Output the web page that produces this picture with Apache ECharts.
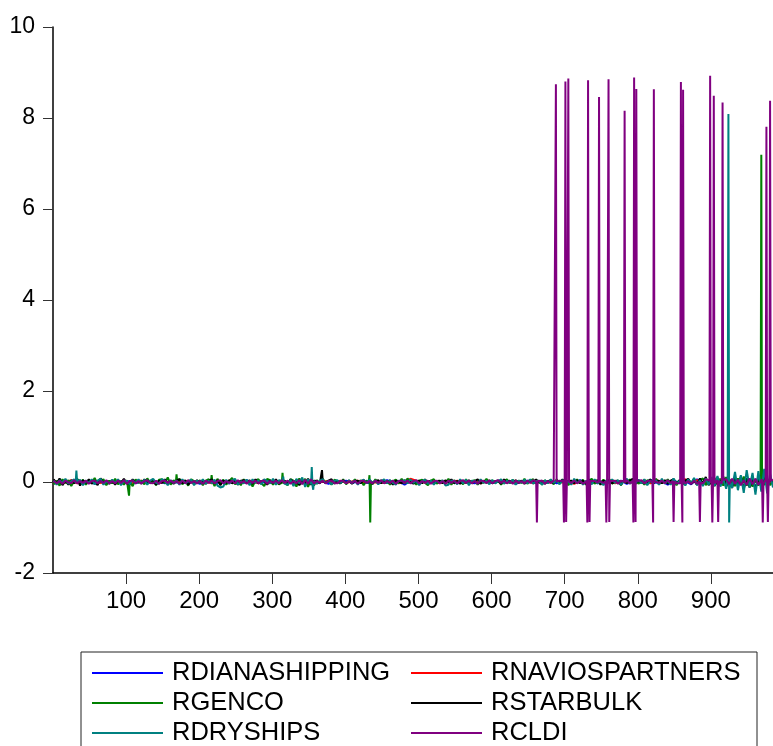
<!DOCTYPE html>
<html>
<head>
<meta charset="utf-8">
<title>Daily returns</title>
<script src="https://cdn.jsdelivr.net/npm/echarts@6/dist/echarts.min.js"></script>
<style>
  html, body { margin: 0; padding: 0; background: #fff; }
  #chart { width: 773px; height: 746px; }
</style>
</head>
<body>
<div id="chart"></div>
<script>
// Observation axis and value axis ticks
const xTicks = [100, 200, 300, 400, 500, 600, 700, 800, 900];
const yTicks = [-2, 0, 2, 4, 6, 8, 10];
const lastObs = 985;

const seriesNames = ['RDIANASHIPPING', 'RNAVIOSPARTNERS', 'RGENCO', 'RSTARBULK', 'RDRYSHIPS', 'RCLDI'];

// Everyday fluctuations, in hundredths, read every 8th observation (obs 1, 9, 17, ...)
const rdianashippingBase = [2,-3,1,-2,3,-1,2,-4,1,2, -2,3,-1,2,-3,1,4,-2,1,-3, 2,-1,3,-2,1,-4,2,1,-2,3,
  -1,2,-3,4,-2,1,-1,3,-2,2, -3,1,2,-1,3,-2,1,-4,2,-1, 3,-2,1,2,-3,1,-2,4,-1,2, -6,3,-2,1,2,-3,1,-1,3,-2,
  2,-1,-3,2,1,-2,3,-1,2,-4, 1,3,-2,2,-1,3,-3,1,2,-2, 4,-1,2,-3,1,2,-2,3,-4,2, 1,-3,5,-2,3,-6,4,-3,2,-5,
  6,-4,3,-2,5,-7,4,-3,6,-5, 3,-4,5,-2];
const rnaviospartnersBase = [-2,3,-1,4,-3,2,-1,3,-2,1, 3,-2,2,-4,1,3,-1,2,-3,1, -1,2,-2,3,-4,2,1,-3,2,-1,
  3,-1,2,-2,1,-3,4,-2,2,-1, 1,-2,3,-1,2,-3,1,2,-1,3, -2,1,3,-2,1,-1,-1,-2,1,-3, 2,7,3,-2,2,1,-3,2,-1,3,
  -2,1,2,-3,4,-1,2,-2,1,3, -1,2,-3,1,2,-2,3,-1,2,-4, 2,-1,3,-2,1,4,-3,2,-1,3, -2,4,-3,5,-2,3,-4,2,6,-3,
  4,-5,3,-2,6,-4,5,-3,2,-6, 4,-3,5,-2];

// Everyday fluctuations, in hundredths, read every 4th observation (obs 1, 5, 9, ...)
const rgencoBase = [-5,3,-8,6,-2,4,-9,2,7,-3, 5,-6,3,-2,9,-4,1,6,-7,3, -3,7,-5,2,-6,4,3,-9,6,-2,
  3,-5,8,-3,2,-7,5,6,-3,10, -6,4,-2,7,-5,3,-8,6,2,-3, 4,-7,3,6,-4,-9,7,-3,5,-6,
  2,9,-5,3,-7,6,-2,4,-10,3, 6,-3,-9,7,4,-6,3,-5,8,-2, -7,6,3,-10,8,-4,7,-11,6,-8,
  4,-3,7,-2,3,-6,5,2,-3,6, -5,3,-2,6,-3,4,-7,3,2,-5, 6,-3,4,-2,3,-6,2,5,-3,7,
  -4,8,-3,2,-6,3,5,-2,-7,3, 6,-4,2,3,-3,7,-6,4,-2,3, -5,6,-3,2,4,-6,3,-2,7,-3,
  4,-2,3,-6,2,6,-3,5,-4,3, -2,7,-4,3,6,-3,2,-6,4,-2, 3,-5,6,-3,2,4,-7,3,-2,6,
  -3,5,-6,2,7,-4,3,-2,5,-3, 6,-4,2,3,-7,4,-2,6,-3,8, -4,3,-6,4,2,-3,7,-5,3,-2,
  6,-3,4,-7,3,2,-5,6,-3,7, -6,4,8,-7,3,-5,9,-6,7,-8, 11,-7,4,-9,8,-6,12,-8,6,-10,
  7,-8,9,-6,8,-7,4];
const rstarbulkBase = [6,-4,8,-7,3,-6,4,-3,7,-8, 4,-2,6,-4,3,-7,8,-3,2,-4, 3,-6,4,-2,7,-3,-4,6,-2,3,
  -4,6,-3,2,4,-6,3,-2,6,-3, 2,-4,3,6,-3,4,-6,2,-3,4, -2,3,-4,2,6,-3,4,-7,3,-2,
  4,-3,2,-6,3,4,-2,3,-4,6, -3,2,4,-6,3,-2,6,-4,2,3, -4,6,-2,3,-7,4,-3,7,-6,3,
  2,-3,4,-2,3,6,-4,2,-3,4, -2,3,-4,2,3,-3,4,-2,3,-4, 2,4,-3,3,-2,4,-6,3,2,-3,
  4,-2,3,-4,2,3,-3,6,-2,3, -4,2,3,-3,4,-2,6,-3,2,-4, 3,-2,4,-3,2,6,-4,3,-2,4,
  -3,2,3,-4,6,-2,3,-3,4,-2, 3,-4,2,4,-3,6,-2,3,-4,2, 4,-3,3,-2,6,-4,2,3,-3,4,
  -2,3,-4,6,-3,2,4,-6,3,-2, 4,-3,2,3,-6,4,-2,3,7,-4, 3,-2,4,-3,6,-4,2,3,-3,4,
  -4,3,6,-3,4,-6,3,7,-4,3, -6,8,-4,11,-7,4,-9,6,-3,12, -11,7,-13,9,-8,12,-15,8,-12,6,
  -14,9,-10,13,-8,7,-4];
const rdryshipsBase = [3,-6,4,-2,7,-4,2,6,-3,5, -7,3,-2,6,-5,3,7,-6,2,-3, 5,-3,6,-7,3,2,-5,4,-2,6,
  -3,5,-6,3,7,-2,-4,6,3,-7, 4,-2,3,-6,6,-3,2,5,-7,3, -2,6,-4,3,-3,5,-8,-12,-10,5,
  -4,3,7,-6,2,-3,5,-7,6,-2, 3,-5,6,2,-3,7,-6,4,-2,9, -6,5,-9,7,-3,10,-11,6,-7,8,
  -4,3,6,-3,2,-5,3,4,-2,3, -3,4,-2,3,-6,2,5,-3,6,-2, 3,-5,2,6,-3,4,-2,-6,3,2,
  4,-3,6,-2,3,-7,2,5,-4,3, -6,3,-3,4,-8,-6,3,2,-5,6, -3,5,-7,3,2,-4,6,-2,3,-5,
  4,-3,2,6,-4,3,-2,5,-6,3, -2,5,-3,6,-4,2,3,-6,4,-3, 6,-2,3,-5,4,-3,2,-6,7,-3,
  4,-6,2,3,-5,6,-3,2,-7,4, -3,6,-2,4,-6,3,7,-4,2,-3, 5,-3,6,-7,3,-2,4,-6,7,-4,
  3,-6,8,-4,2,7,-8,6,-3,9, -7,4,-9,8,-6,11,-8,13,-10,7, -15,18,-13,22,-18,15,-24,26,-12,20,
  -28,24,-21,29,-25,18,-12];
const rcldiBase = [3,-3,2,-4,3,-1,-2,4,-3,2, -2,3,-4,2,3,-3,2,-2,4,-3, 2,-3,3,-2,4,-4,2,3,-3,2,
  -3,2,4,-2,-3,3,-4,2,3,-2, 3,-2,2,-4,3,-3,4,-2,2,-3, 2,-4,3,-2,3,-3,2,4,-3,2,
  -2,3,-3,4,-2,2,-4,3,-2,3, -3,2,3,-4,2,-2,3,-3,4,-2, 3,-4,2,-3,4,-5,5,-4,6,-3,
  2,-2,3,-3,2,3,-2,-3,2,3, -3,2,-2,3,-4,2,3,-2,2,-3, 3,-2,4,-3,2,-2,3,-4,2,3,
  -2,3,-3,2,4,-3,2,-2,3,-4, 2,3,-3,2,-4,3,-2,3,-3,2, 4,-2,3,-3,2,-4,3,2,-2,3,
  -3,2,4,-2,3,-3,2,-4,3,-2, 2,-3,3,-2,4,-3,2,3,-4,2, -2,3,-4,3,2,-3,4,-2,3,-3,
  2,-4,3,-2,3,2,-3,4,-2,3, -3,2,3,-4,2,-2,4,-3,2,3, -2,4,-3,2,3,-4,2,-2,3,-3,
  4,-2,3,-3,2,4,-3,2,-4,3, -4,5,-3,6,-5,4,-6,3,5,-4, 6,-5,7,-4,5,-7,4,-6,8,-5,
  7,-6,5,-7,6,-4,5];

// Individual large moves as [observation, return]
const rgencoMoves = [[103,0.02],[104,-0.30],[105,0.01],[168,-0.02],[169,0.17],[170,0.01],
  [216,-0.01],[217,0.15],[218,0.02],[313,-0.02],[314,0.20],[315,-0.01],
  [432,0.01],[433,0.15],[434,-0.89],[435,0.02],[968,0.05],[969,7.19],[970,-0.04]];
const rstarbulkMoves = [[367,-0.03],[368,0.26],[369,0.02]];
const rdryshipsMoves = [[31,-0.02],[32,0.25],[33,0.01],[314,0.02],[315,0.12],[316,-0.03],
  [353,-0.05],[354,0.33],[355,-0.08],[356,-0.17],[357,0.02],
  [923,0.08],[924,8.09],[925,-0.89],[926,0.05]];
const rcldiMoves = [[661,0.01],[662,-0.89],[663,0.02],
  [687,-0.01],[688,8.74],[689,0.01],
  [698,0.02],[699,-0.89],[700,0.01],[701,8.80],[702,-0.88],[703,0.02],[704,-0.01],[705,8.87],[706,0.01],
  [730,0.02],[731,-0.89],[732,8.83],[733,0.01],[734,-0.88],[735,0.02],
  [746,-0.01],[747,8.46],[748,0.02],
  [756,0.01],[757,-0.89],[758,-0.02],[759,0.01],[760,8.85],[761,-0.88],[762,0.02],
  [781,0.01],[782,8.16],[783,-0.01],
  [793,0.02],[794,-0.89],[795,8.89],[796,0.01],[797,-0.88],[798,8.64],[799,0.02],
  [820,-0.01],[821,-0.89],[822,8.63],[823,0.01],
  [848,0.02],[849,-0.88],[850,0.01],
  [858,-0.02],[859,8.79],[860,0.01],[861,-0.89],[862,8.62],[863,0.02],
  [884,0.01],[885,-0.88],[886,-0.01],
  [898,0.03],[899,8.93],[900,-0.02],[901,0.04],[902,-0.89],[903,0.02],[904,8.49],[905,-0.03],
  [909,0.04],[910,-0.88],[911,0.02],
  [915,-0.03],[916,8.34],[917,0.05],
  [970,0.06],[971,-0.89],[972,-0.04],
  [975,0.05],[976,7.81],[977,-0.03],[978,-0.88],[979,0.04],[980,-0.02],[981,8.38],[982,0.03]];

// Put a base sequence (hundredths, fixed spacing) and the large moves together as [obs, value]
function buildSeries(base, step, moves) {
  const pts = [];
  base.forEach(function (v, i) {
    const obs = 1 + i * step;
    if (obs > lastObs) return;
    const clash = moves.some(function (m) { return Math.abs(m[0] - obs) <= 1; });
    if (!clash) pts.push([obs, v / 100]);
  });
  moves.forEach(function (m) { pts.push([m[0], m[1]]); });
  pts.sort(function (a, b) { return a[0] - b[0]; });
  return pts;
}

const seriesData = [
  buildSeries(rdianashippingBase, 8, []),
  buildSeries(rnaviospartnersBase, 8, []),
  buildSeries(rgencoBase, 4, rgencoMoves),
  buildSeries(rstarbulkBase, 4, rstarbulkMoves),
  buildSeries(rdryshipsBase, 4, rdryshipsMoves),
  buildSeries(rcldiBase, 4, rcldiMoves)
];
const seriesColors = ['#0000FF', '#FF0000', '#008000', '#000000', '#008080', '#800080'];

const FONT = "'Liberation Sans', Arial, sans-serif";

const chart = echarts.init(document.getElementById('chart'), null, { renderer: 'canvas' });

function legendBlock(names, left) {
  return {
    data: names,
    orient: 'vertical',
    left: left,
    top: 660,
    width: 330,
    height: 150,
    padding: 0,
    itemGap: 4,
    itemWidth: 71,
    itemHeight: 2,
    icon: 'rect',
    selectedMode: false,
    textStyle: { fontFamily: FONT, fontSize: 25.5, lineHeight: 24, color: '#000', padding: [0, 0, 0, 4] }
  };
}

chart.setOption({
  animation: false,
  backgroundColor: '#ffffff',
  grid: { left: 53, top: 27, right: 0, bottom: 173 },
  xAxis: [{
    type: 'value',
    min: 0,
    max: lastObs,
    interval: 100,
    axisLine: { show: true, onZero: false, lineStyle: { color: '#000', width: 1.5 } },
    axisTick: { show: true, customValues: xTicks, length: 11, inside: false, lineStyle: { color: '#333', width: 1 } },
    axisLabel: { customValues: xTicks, margin: 16, fontFamily: FONT, fontSize: 24, color: '#000' },
    splitLine: { show: false }
  }, {
    type: 'value',
    position: 'top',
    min: 0,
    max: lastObs,
    axisLine: { show: true, lineStyle: { color: '#000', width: 1.5 } },
    axisTick: { show: false },
    axisLabel: { show: false },
    splitLine: { show: false }
  }],
  yAxis: {
    type: 'value',
    min: -2,
    max: 10,
    interval: 2,
    axisLine: { show: true, onZero: false, lineStyle: { color: '#000', width: 1.5 } },
    axisTick: { show: true, length: 10, lineStyle: { color: '#333', width: 1 } },
    axisLabel: { margin: 18, fontFamily: FONT, fontSize: 23, color: '#000',
      formatter: function (v) { return yTicks.indexOf(v) >= 0 ? String(v) : ''; } },
    splitLine: { show: false }
  },
  legend: [
    legendBlock(seriesNames.filter(function (n, i) { return i % 2 === 0; }), 92),
    legendBlock(seriesNames.filter(function (n, i) { return i % 2 === 1; }), 411)
  ],
  graphic: [{
    type: 'rect',
    shape: { x: 81, y: 652, width: 676, height: 130 },
    style: { fill: 'none', stroke: '#222', lineWidth: 1 },
    silent: true,
    z: 0
  }],
  series: seriesNames.map(function (name, i) {
    return {
      name: name,
      type: 'line',
      xAxisIndex: 0,
      data: seriesData[i],
      showSymbol: false,
      symbol: 'none',
      color: seriesColors[i],
      lineStyle: { color: seriesColors[i], width: 2 },
      itemStyle: { color: seriesColors[i] },
      z: 2 + i,
      silent: true
    };
  })
});
</script>
</body>
</html>
